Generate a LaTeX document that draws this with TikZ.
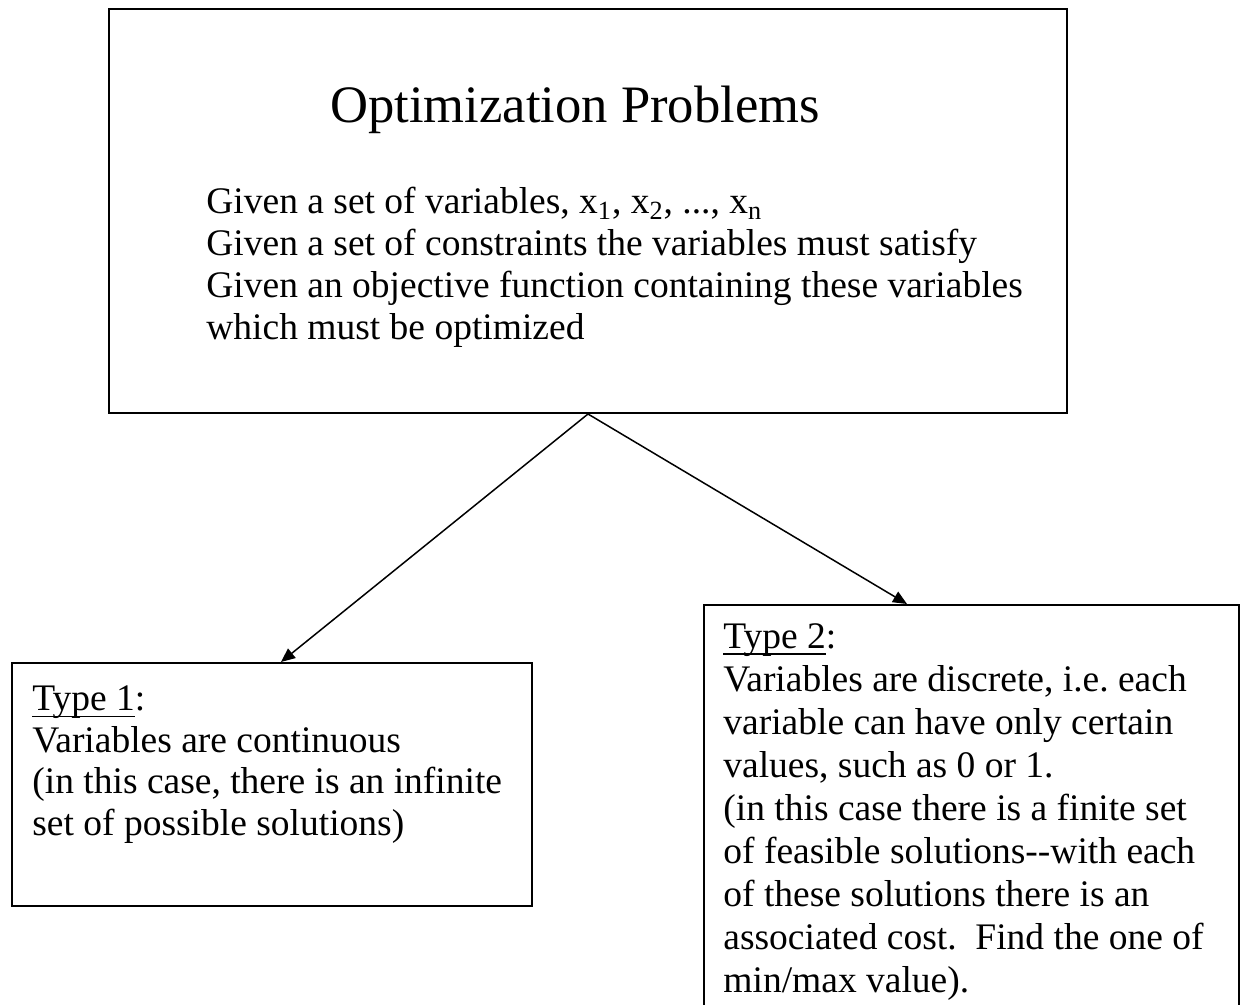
\documentclass[tikz,border=0pt]{standalone}
\usepackage{fontspec}
\setmainfont{Liberation Serif}
\usetikzlibrary{arrows.meta}
\newcommand{\typeul}[1]{\setbox0\hbox{#1}\rlap{\rule[-3.4pt]{\wd0}{0.9pt}}\box0}
\frenchspacing
\begin{document}
\begin{tikzpicture}[x=0.5pt,y=-0.5pt,
	box/.style={draw,line width=1pt,inner sep=0pt,anchor=north west},
	txt/.style={anchor=base west,inner sep=0pt,align=left},
	link/.style={line width=0.75pt,-{Triangle[length=7pt,width=6pt]}}]
\useasboundingbox (0,0) rectangle (1241,1005);
% the three boxes
\node[box,minimum width=479pt,minimum height=202pt] (prob) at (108,8) {};
\node[box,minimum width=260pt,minimum height=121.5pt] (cont) at (11,662) {};
\node[box,minimum width=267.5pt,minimum height=215pt] (disc) at (703,604) {};
% texts (base = last line)
\node[anchor=base,inner sep=0pt,font=\fontsize{26.3}{30}\selectfont] (title) at (575,123) {Optimization Problems};
\node[txt,font=\fontsize{18.75}{21}\selectfont] (given) at (206,340) {Given a set of variables, x\textsubscript{1}, x\textsubscript{2}, ..., x\textsubscript{n}\\
	Given a set of constraints the variables must satisfy\\
	Given an objective function containing these variables\\
	which must be optimized};
\node[txt,font=\fontsize{18.75}{20.75}\selectfont] (type1) at (32,835) {\typeul{Type 1}:\\
	Variables are continuous\\
	(in this case, there is an infinite\\
	set of possible solutions)};
\node[txt,font=\fontsize{18.75}{21.5}\selectfont] (type2) at (723,992) {\typeul{Type 2}:\\
	Variables are discrete, i.e. each\\
	variable can have only certain\\
	values, such as 0 or 1.\\
	(in this case there is a finite set\\
	of feasible solutions-{}-with each\\
	of these solutions there is an\\
	associated cost.\ \ Find the one of\\
	min/max value).};
% arrows
\draw[link] (prob.south) -- ([xshift=4.5pt]cont.north);
\draw[link] (prob.south) -- ([xshift=-32.25pt]disc.north);
\end{tikzpicture}
\end{document}
